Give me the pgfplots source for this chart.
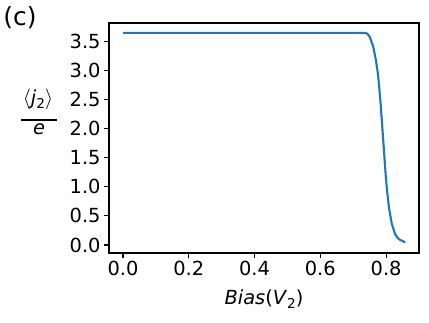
\documentclass[border=0pt]{standalone}
\usepackage{fontspec}
\setmainfont{DejaVu Sans}
\usepackage{pgfplots}
\pgfplotsset{compat=1.18}

\definecolor{mplblue}{HTML}{1F77B4}
\newcommand{\tickfont}{\fontsize{19.4}{23}\selectfont}
\newcommand{\sub}[1]{\raisebox{-0.22em}{\fontsize{13.6}{15}\selectfont #1}}

\begin{document}
\begin{tikzpicture}
\path[use as bounding box] (0pt,0pt) rectangle (429pt,323pt);
\begin{axis}[
    at={(109pt,70pt)}, anchor=south west,
    scale only axis, width=310pt, height=230pt,
    xmin=-0.0426, xmax=0.900,
    ymin=-0.138, ymax=3.82,
    xtick={0,0.2,0.4,0.6,0.8},
    ytick={0,0.5,1,1.5,2,2.5,3,3.5},
    xticklabel style={/pgf/number format/.cd,fixed,fixed zerofill,precision=1},
    yticklabel style={/pgf/number format/.cd,fixed,fixed zerofill,precision=1},
    /pgf/number format/assume math mode=true,
    tick label style={font=\tickfont},
    tick align=outside, tick pos=left,
    major tick length=4.9pt,
    every tick/.style={black, line width=1.1pt},
    axis line style={line width=1.1pt},
    xlabel={\textit{Bias}(\textit{V}\sub{2})},
    xlabel style={font=\tickfont, yshift=-7pt},
]
\addplot[mplblue, line width=2.1pt, line join=round] coordinates {
(0.000,3.650) (0.100,3.650) (0.200,3.650) (0.300,3.650) (0.400,3.650)
(0.500,3.650) (0.600,3.650) (0.700,3.650) (0.735,3.648) (0.742,3.640)
(0.750,3.585) (0.761,3.410) (0.769,3.180) (0.775,2.950) (0.779,2.720)
(0.784,2.380) (0.789,1.980) (0.795,1.500) (0.799,1.180) (0.803,0.930)
(0.809,0.630) (0.817,0.370) (0.827,0.190) (0.835,0.120) (0.843,0.086)
(0.858,0.046)
};
\end{axis}
\node at (20pt,305pt) {\fontsize{25}{30}\selectfont (c)};
% y label: <j_2> / e
\node[font=\tickfont] at (38pt,224pt) {$\langle$\textit{j}\sub{2}$\rangle$};
\draw[line width=1.6pt] (21pt,203pt) -- (57pt,203pt);
\node[font=\tickfont, anchor=base] at (39pt,188pt) {\textit{e}};
\end{tikzpicture}
\end{document}
